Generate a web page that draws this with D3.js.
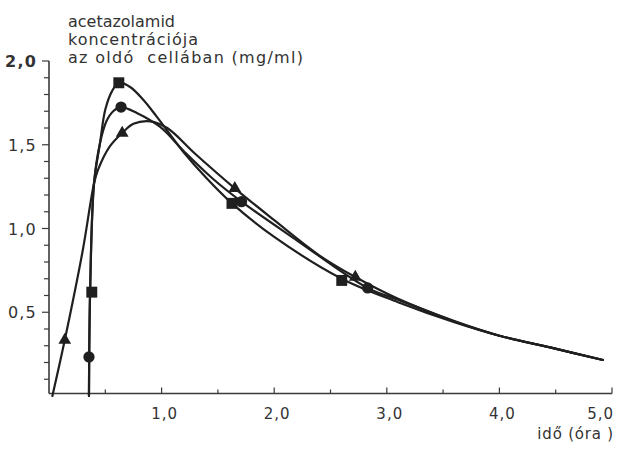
<!DOCTYPE html>
<html>
<head>
<meta charset="utf-8">
<script src="https://cdn.jsdelivr.net/npm/d3@7"></script>
<style>
  body { margin: 0; background: #fff; }
  text { font-family: "DejaVu Sans", sans-serif; fill: #333; }
</style>
</head>
<body>
<svg id="chart" width="621" height="449"></svg>
<script>
// Axis labelling
const titleLines = ["acetazolamid", "koncentrációja", "az oldó  cellában (mg/ml)"];
const titleWidths = [107, 130, 235];
const xAxisTitle = "idő (óra )";
const xTickValues = [1, 2, 3, 4, 5];
const xTickLabels = ["1,0", "2,0", "3,0", "4,0", "5,0"];
const yTickValues = [0.5, 1.0, 1.5, 2.0];
const yTickLabels = ["0,5", "1,0", "1,5", "2,0"];

// Measured concentrations [time (h), mg/ml]
const squarePoints   = [[0.38, 0.62], [0.62, 1.87], [1.625, 1.15], [2.60, 0.69]];
const circlePoints   = [[0.355, 0.233], [0.64, 1.725], [1.71, 1.16], [2.83, 0.645]];
const trianglePoints = [[0.14, 0.334], [0.65, 1.57], [1.65, 1.24], [2.72, 0.71]];

// Fitted curves through each series [time (h), mg/ml]
const squareCurve = [
  [0.355, 0.0], [0.365, 0.62], [0.40, 1.27], [0.453, 1.51], [0.50, 1.71],
  [0.56, 1.82], [0.62, 1.87], [0.72, 1.845], [0.835, 1.77], [0.96, 1.665],
  [1.19, 1.46], [1.40, 1.30], [1.625, 1.15], [2.0, 0.95],
  [2.60, 0.70], [3.1, 0.56], [3.6, 0.44], [4.0, 0.36], [4.45, 0.29], [4.92, 0.215]
];
const circleCurve = [
  [0.355, 0.0], [0.365, 0.62], [0.40, 1.27], [0.453, 1.51], [0.51, 1.64],
  [0.57, 1.70], [0.64, 1.725], [0.78, 1.69], [0.99, 1.605], [1.20, 1.46],
  [1.45, 1.30], [1.71, 1.16], [2.2, 0.93], [2.83, 0.645], [3.1, 0.575],
  [3.6, 0.445], [4.0, 0.36], [4.45, 0.29], [4.92, 0.215]
];
const triangleCurve = [
  [0.03, 0.0], [0.14, 0.334], [0.30, 0.87], [0.40, 1.27], [0.435, 1.35],
  [0.54, 1.49], [0.65, 1.57], [0.75, 1.625], [0.90, 1.64], [1.05, 1.60],
  [1.30, 1.445], [1.65, 1.24], [2.0, 1.05],
  [2.4, 0.84], [2.72, 0.71], [3.1, 0.58], [3.6, 0.447], [4.0, 0.36],
  [4.45, 0.29], [4.92, 0.215]
];

const svg = d3.select("#chart");
const x = d3.scaleLinear().domain([0, 5]).range([49, 612]);
const y = d3.scaleLinear().domain([0, 2]).range([396, 61]);
const ink = "#1f1f1f";
const axisInk = "#3a3a3a";

// Y axis: line with outward ticks every 0.1, longer at each 0.5
svg.append("line")
  .attr("x1", x(0)).attr("x2", x(0))
  .attr("y1", y(2)).attr("y2", y(0.015))
  .attr("stroke", axisInk).attr("stroke-width", 1.6);
const yMinor = d3.range(1, 21).map(i => i / 10);
svg.selectAll(".ytick").data(yMinor).join("line")
  .attr("x1", x(0)).attr("y1", d => y(d)).attr("y2", d => y(d))
  .attr("x2", d => x(0) - (Math.abs(d * 2 - Math.round(d * 2)) < 1e-6 ? 7 : 5))
  .attr("stroke", axisInk).attr("stroke-width", 1.2);
svg.selectAll(".ylab").data(yTickValues).join("text")
  .attr("x", 37).attr("y", d => y(d) + 6)
  .attr("text-anchor", "end")
  .attr("font-size", 16)
  .attr("letter-spacing", 1.2)
  .attr("font-weight", (d, i) => i === yTickValues.length - 1 ? 600 : 400)
  .text((d, i) => yTickLabels[i]);

// X axis: line with inward ticks at every 0.5
const xAxisY = y(0.015);
svg.append("line")
  .attr("x1", x(0)).attr("x2", x(5))
  .attr("y1", xAxisY).attr("y2", xAxisY)
  .attr("stroke", axisInk).attr("stroke-width", 1.6);
const xMinor = d3.range(1, 11).map(i => i / 2);
svg.selectAll(".xtick").data(xMinor).join("line")
  .attr("x1", d => x(d)).attr("x2", d => x(d))
  .attr("y1", xAxisY)
  .attr("y2", d => xAxisY - (Number.isInteger(d) ? 6 : 4))
  .attr("stroke", axisInk).attr("stroke-width", 1.2);
svg.selectAll(".xlab").data(xTickValues).join("text")
  .attr("x", (d, i) => i === xTickValues.length - 1 ? x(d) + 2 : x(d) + 3)
  .attr("y", 419)
  .attr("text-anchor", (d, i) => i === xTickValues.length - 1 ? "end" : "middle")
  .attr("font-size", 15)
  .attr("letter-spacing", 1)
  .text((d, i) => xTickLabels[i]);
svg.append("text")
  .attr("x", 614).attr("y", 439)
  .attr("text-anchor", "end")
  .attr("font-size", 15)
  .attr("letter-spacing", 0.8)
  .text(xAxisTitle);

// Quantity label, top left
svg.selectAll(".title").data(titleLines).join("text")
  .attr("x", 68).attr("y", (d, i) => 27 + i * 18)
  .attr("font-size", 16)
  .attr("textLength", (d, i) => titleWidths[i])
  .attr("lengthAdjust", "spacing")
  .attr("xml:space", "preserve")
  .style("white-space", "pre")
  .text(d => d);

// Curves
const line = d3.line()
  .x(d => x(d[0])).y(d => y(d[1]))
  .curve(d3.curveCatmullRom.alpha(0.5));
[squareCurve, circleCurve, triangleCurve].forEach(c => {
  svg.append("path").datum(c)
    .attr("d", line)
    .attr("fill", "none")
    .attr("stroke", ink).attr("stroke-width", 2.2)
    .attr("stroke-linecap", "round");
});

// Markers
const sym = (type, size) => d3.symbol().type(type).size(size);
svg.selectAll(".sq").data(squarePoints).join("path")
  .attr("transform", d => `translate(${x(d[0])},${y(d[1])})`)
  .attr("d", sym(d3.symbolSquare, 120)).attr("fill", ink);
svg.selectAll(".ci").data(circlePoints).join("path")
  .attr("transform", d => `translate(${x(d[0])},${y(d[1])})`)
  .attr("d", sym(d3.symbolCircle, 100)).attr("fill", ink);
svg.selectAll(".tr").data(trianglePoints).join("path")
  .attr("transform", d => `translate(${x(d[0])},${y(d[1])})`)
  .attr("d", sym(d3.symbolTriangle, 70)).attr("fill", ink);
</script>
</body>
</html>
